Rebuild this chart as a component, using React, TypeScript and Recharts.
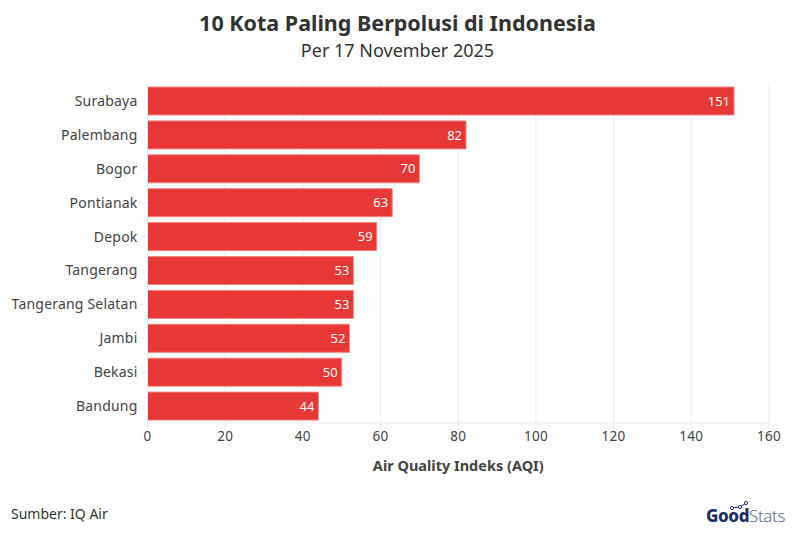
import React from 'react';
import { BarChart, Bar, XAxis, YAxis, CartesianGrid, LabelList } from 'recharts';

const cities = ['Surabaya', 'Palembang', 'Bogor', 'Pontianak', 'Depok', 'Tangerang', 'Tangerang Selatan', 'Jambi', 'Bekasi', 'Bandung'];
const aqi = [151, 82, 70, 63, 59, 53, 53, 52, 50, 44];
const xTicks = [0, 20, 40, 60, 80, 100, 120, 140, 160];

const rows = cities.map((city, i) => ({ city, aqi: aqi[i] }));

const FONT = '"Noto Sans", sans-serif';
const GRID = '#ececec';

const App = () => {
  return (
    <div style={{ position: 'absolute', left: 0, top: 0, width: 795, height: 536, background: '#fff', fontFamily: FONT, overflow: 'hidden' }}>
      <div style={{ position: 'absolute', top: 8, left: 0, width: 795, textAlign: 'center', fontSize: 21.5, fontWeight: 700, color: '#333' }}>
        10 Kota Paling Berpolusi di Indonesia
      </div>
      <div style={{ position: 'absolute', top: 38, left: 0, width: 795, textAlign: 'center', fontSize: 18, color: '#333' }}>
        Per 17 November 2025
      </div>

      <BarChart
        width={795}
        height={536}
        data={rows}
        layout="vertical"
        barCategoryGap={3}
        margin={{ top: 84, right: 26, bottom: 0, left: 0 }}
      >
        <CartesianGrid horizontal={false} stroke={GRID} strokeWidth={1} />
        <XAxis
          type="number"
          domain={[0, 160]}
          ticks={xTicks}
          height={113}
          stroke={GRID}
          tickSize={6}
          tick={{ fill: '#444', fontSize: 13.5, fontFamily: FONT, letterSpacing: 0.3 }}
          label={{ value: 'Air Quality Indeks (AQI)', position: 'insideTop', offset: 38, fill: '#444', fontSize: 14.5, fontWeight: 700, fontFamily: FONT }}
        />
        <YAxis
          type="category"
          dataKey="city"
          width={147.5}
          interval={0}
          stroke={GRID}
          tickSize={6}
          tickMargin={4}
          tick={{ fill: '#444', fontSize: 14, fontFamily: FONT, letterSpacing: 0.2 }}
        />
        <Bar dataKey="aqi" fill="#E73835" stroke="#F08583" strokeWidth={1} isAnimationActive={false}>
          <LabelList dataKey="aqi" position="insideRight" offset={4} fill="#fff" fontSize={13} fontFamily={FONT} />
        </Bar>
      </BarChart>

      <div style={{ position: 'absolute', left: 11, top: 504, fontSize: 14, color: '#333' }}>Sumber: IQ Air</div>

      <div style={{ position: 'absolute', left: 706, top: 505, fontSize: 17, lineHeight: '22px', color: '#1c2f66', letterSpacing: -0.4, whiteSpace: 'nowrap' }}>
        <span style={{ fontWeight: 800 }}>Good</span>
        <span style={{ fontWeight: 300, color: '#5d6b94' }}>Stats</span>
      </div>
      <svg style={{ position: 'absolute', left: 726, top: 501 }} width={24} height={16}>
        <polyline points="6,7 14,6 20,2" fill="none" stroke="#1c2f66" strokeWidth={1} />
        <circle cx={6} cy={7} r={1.6} fill="#fff" stroke="#1c2f66" />
        <circle cx={14} cy={6} r={1.6} fill="#fff" stroke="#1c2f66" />
        <circle cx={20} cy={2} r={1.6} fill="#fff" stroke="#1c2f66" />
      </svg>
    </div>
  );
};

export default App;
